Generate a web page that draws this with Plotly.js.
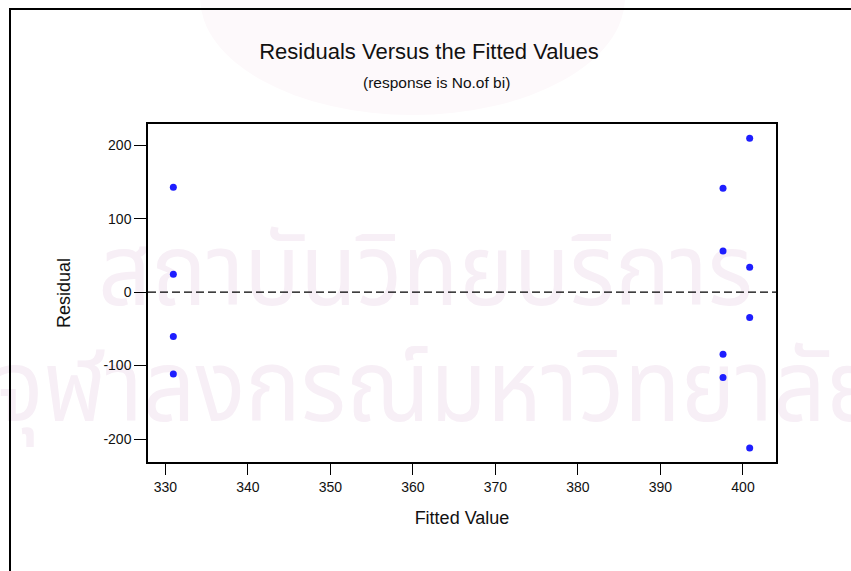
<!DOCTYPE html>
<html>
<head>
<meta charset="utf-8">
<script src="https://cdn.plot.ly/plotly-3.0.1.min.js"></script>
<style>
  html, body { margin: 0; padding: 0; background: #ffffff; overflow: hidden; }
  #wrap { position: relative; width: 851px; height: 571px; overflow: hidden; }
  .wm { position: absolute; width: 1251px; text-align: center; white-space: nowrap;
        font-family: "Noto Sans Thai", "Tahoma", "DejaVu Sans", sans-serif; color: #f7eff6;
        font-size: 100px; line-height: 100px; z-index: 0;
        transform: scaleX(0.925); transform-origin: 50% 50%; }
  #chart { position: absolute; left: 0; top: 0; z-index: 1; }
</style>
</head>
<body>
<div id="wrap">
  <div class="wm" id="wm1" style="top:225px; left:-200px;">สถาบันวิทยบริการ</div>
  <div class="wm" id="wm2" style="top:341px; left:-188px;">จุฬาลงกรณ์มหาวิทยาลัย</div>
  <div id="chart"></div>
</div>
<script>
// Data
const fittedValues = [330.97, 330.97, 330.97, 330.97,
                      397.58, 397.58, 397.58, 397.58,
                      400.81, 400.81, 400.81, 400.81];
const residuals    = [142.9, 24.5, -60.4, -111.6,
                      141.5, 56.2, -84.4, -116.2,
                      209.5, 34.0, -34.6, -212.2];
const xTickValues = [330, 340, 350, 360, 370, 380, 390, 400];
const yTickValues = [-200, -100, 0, 100, 200];
const chartTitle = "Residuals Versus the Fitted Values";
const chartSubtitle = "(response is No.of bi)";
const xLabel = "Fitted Value";
const yLabel = "Residual";

const FONT = "Liberation Sans, Arial, sans-serif";

const trace = {
  type: "scatter",
  mode: "markers",
  x: fittedValues,
  y: residuals,
  marker: { size: 7, color: "rgb(30,30,255)", line: { width: 0 } },
  hoverinfo: "x+y",
  showlegend: false
};

const layout = {
  width: 851,
  height: 571,
  margin: { l: 148, r: 75, t: 124, b: 109, pad: 0 },
  paper_bgcolor: "rgba(0,0,0,0)",
  plot_bgcolor: "rgba(0,0,0,0)",
  font: { family: FONT, color: "#111111" },
  title: {
    text: chartTitle,
    font: { family: FONT, size: 22, color: "#111111" },
    xref: "container", yref: "container",
    x: 429 / 851, xanchor: "center",
    y: 1 - 51 / 571, yanchor: "middle"
  },
  annotations: [
    {
      text: chartSubtitle,
      xref: "paper", yref: "paper",
      x: (436 - 148) / 628, y: (462 - 83) / 338,
      xanchor: "center", yanchor: "middle",
      showarrow: false,
      font: { family: FONT, size: 15.5, color: "#111111" }
    }
  ],
  xaxis: {
    range: [327.9, 404.0],
    tickvals: xTickValues,
    ticktext: xTickValues.map(String),
    ticks: "outside",
    ticklen: 11,
    tickwidth: 1,
    tickcolor: "#000000",
    tickfont: { family: FONT, size: 14, color: "#111111" },
    showgrid: false,
    zeroline: false,
    showline: true,
    linecolor: "#000000",
    linewidth: 1.5,
    mirror: true,
    title: { text: xLabel, font: { family: FONT, size: 18, color: "#111111" }, standoff: 18 }
  },
  yaxis: {
    range: [-231.3, 229],
    tickvals: yTickValues,
    ticktext: yTickValues.map(String),
    ticks: "outside",
    ticklen: 12,
    tickwidth: 1,
    tickcolor: "#000000",
    tickfont: { family: FONT, size: 14, color: "#111111" },
    showgrid: false,
    zeroline: false,
    showline: true,
    linecolor: "#000000",
    linewidth: 1.5,
    mirror: true,
    title: { text: yLabel, font: { family: FONT, size: 18, color: "#111111" }, standoff: 28 }
  },
  shapes: [
    {
      type: "circle", xref: "paper", yref: "paper",
      x0: (200 - 148) / 628, x1: (625 - 148) / 628,
      y0: (462 - 115) / 338, y1: (462 + 120) / 338,
      line: { width: 0 },
      fillcolor: "#fdf9fb",
      layer: "below"
    },
    {
      type: "line", xref: "paper", yref: "y",
      x0: 0, x1: 1, y0: 0, y1: 0,
      line: { color: "#000000", width: 1.2, dash: "8px,4px" },
      layer: "below"
    },
    {
      type: "rect", xref: "paper", yref: "paper",
      x0: (10 - 148) / 628, x1: (900 - 148) / 628,
      y0: (462 - 640) / 338, y1: (462 - 9) / 338,
      line: { color: "#000000", width: 2 },
      fillcolor: "rgba(0,0,0,0)",
      layer: "below"
    }
  ]
};

Plotly.newPlot("chart", [trace], layout, { displayModeBar: false, staticPlot: false });
</script>
</body>
</html>
